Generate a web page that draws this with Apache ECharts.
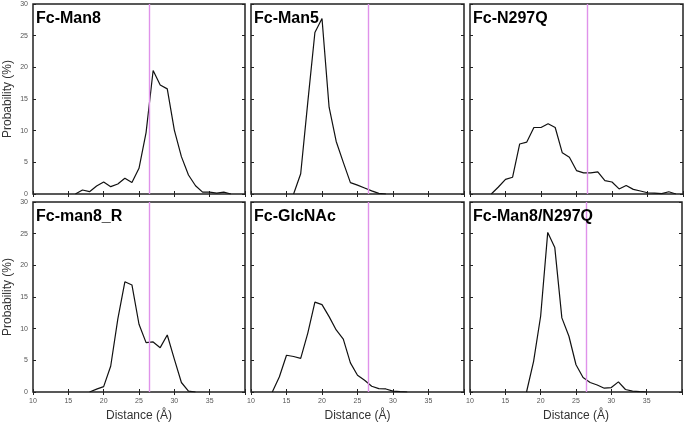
<!DOCTYPE html>
<html><head><meta charset="utf-8">
<script src="https://cdn.jsdelivr.net/npm/echarts@6/dist/echarts.min.js"></script>
<style>html,body{margin:0;padding:0;background:#fff}#c{width:685px;height:425px}</style>
</head><body><div id="c"></div>
<script>
// ---- data ----
const panelTitles = ['Fc-Man8', 'Fc-Man5', 'Fc-N297Q', 'Fc-man8_R', 'Fc-GlcNAc', 'Fc-Man8/N297Q'];
const xTickLabels = [10, 15, 20, 25, 30, 35];
const yTickLabels = [0, 5, 10, 15, 20, 25, 30];
const refDistance = 26.5;

const distMan8 = [16,17,18,19,20,21,22,23,24,25,26,27,28,29,30,31,32,33,34,35,36,37,38];
const probMan8 = [0,0.63,0.37,1.26,1.9,1.16,1.58,2.5,1.8,4.05,9.7,19.5,17.2,16.6,10.1,5.9,3.0,1.3,0.3,0.3,0.15,0.3,0];

const distMan5 = [16,17,18,19,20,21,22,23,24,25,26,27,28,29];
const probMan5 = [0,3.2,14.5,25.5,27.7,13.7,8.3,5.0,1.8,1.4,0.95,0.5,0.1,0];

const distN297Q = [13,14,15,16,17,18,19,20,21,22,23,24,25,26,27,28,29,30,31,32,33,34,35,36,37,38,39];
const probN297Q = [0,1.1,2.3,2.65,7.9,8.2,10.5,10.5,11.1,10.5,6.5,5.8,3.7,3.33,3.33,3.5,2.1,1.9,0.8,1.35,0.73,0.47,0.2,0.15,0.05,0.35,0];

const distMan8R = [18,19,20,21,22,23,24,25,26,27,28,29,30,31,32,33];
const probMan8R = [0,0.45,0.85,4.1,11.5,17.4,16.9,10.7,7.8,7.9,7.0,9.0,5.2,1.5,0.15,0];

const distGlcNAc = [13,14,15,16,17,18,19,20,21,22,23,24,25,26,27,28,29,30,31,32];
const probGlcNAc = [0,2.4,5.8,5.6,5.3,9.3,14.2,13.8,11.9,9.8,8.35,4.6,2.65,1.85,0.9,0.53,0.48,0.15,0.05,0];

const distMan8N297Q = [18,19,20,21,22,23,24,25,26,27,28,29,30,31,32,33,34,35];
const probMan8N297Q = [0,4.85,12.0,25.2,22.8,11.7,8.8,4.3,2.3,1.5,1.1,0.6,0.7,1.6,0.4,0.15,0.05,0];

const panelDist = [distMan8, distMan5, distN297Q, distMan8R, distGlcNAc, distMan8N297Q];
const panelProb = [probMan8, probMan5, probN297Q, probMan8R, probGlcNAc, probMan8N297Q];

// ---- layout ----
const colLeft = [33, 251, 470];
const colWidth = [212, 213, 213];
const rowTop = [4, 202];
const rowHeight = 190;

const grids = [], xAxes = [], yAxes = [], series = [], titles = [];
const tickStyle = { show: true, inside: true, length: 3, lineStyle: { color: '#222', width: 1 } };
const labelFont = { color: '#555', fontSize: 7, fontFamily: 'Liberation Sans, Arial, sans-serif' };

for (let i = 0; i < 6; i++) {
  const r = Math.floor(i / 3), c = i % 3;
  grids.push({ left: colLeft[c], top: rowTop[r], width: colWidth[c], height: rowHeight,
    show: true, borderColor: '#222', borderWidth: 1.5, backgroundColor: 'transparent' });
  const xBase = { type: 'value', gridIndex: i, min: 10, max: 40, interval: 5,
    axisLine: { show: false }, splitLine: { show: false }, axisTick: tickStyle };
  xAxes.push(Object.assign({}, xBase, {
    position: 'bottom',
    axisLabel: { show: r === 1, margin: 6, ...labelFont,
      formatter: v => xTickLabels.indexOf(v) >= 0 ? String(v) : '' },
    name: r === 1 ? 'Distance (Å)' : '', nameLocation: 'middle', nameGap: 18,
    nameTextStyle: { fontSize: 12, color: '#333', fontFamily: 'Liberation Sans, Arial, sans-serif' }
  }));
  xAxes.push(Object.assign({}, xBase, { position: 'top', axisLabel: { show: false } }));
  const yBase = { type: 'value', gridIndex: i, min: 0, max: 30, interval: 5,
    axisLine: { show: false }, splitLine: { show: false }, axisTick: tickStyle };
  yAxes.push(Object.assign({}, yBase, {
    position: 'left',
    axisLabel: { show: c === 0, margin: 5, ...labelFont,
      formatter: v => yTickLabels.indexOf(v) >= 0 ? String(v) : '' },
    name: c === 0 ? 'Probability (%)' : '', nameLocation: 'middle', nameGap: 19,
    nameTextStyle: { fontSize: 12, color: '#333', fontFamily: 'Liberation Sans, Arial, sans-serif' }
  }));
  yAxes.push(Object.assign({}, yBase, { position: 'right', axisLabel: { show: false } }));

  series.push({
    type: 'line', xAxisIndex: 2 * i, yAxisIndex: 2 * i,
    data: panelDist[i].map((d, k) => [d, panelProb[i][k]]),
    symbol: 'none', lineStyle: { color: '#111', width: 1.2 }, animation: false, z: 3,
    markLine: { silent: true, symbol: 'none', label: { show: false },
      lineStyle: { color: '#df92ea', width: 1.4, type: 'solid' },
      data: [{ xAxis: refDistance }], animation: false }
  });
  titles.push({ text: panelTitles[i], left: colLeft[c] + 3, top: rowTop[r] + 7,
    textStyle: { fontSize: 16, fontWeight: 'bold', color: '#000', fontFamily: 'Liberation Sans, Arial, sans-serif' },
    padding: 0 });
}

const chart = echarts.init(document.getElementById('c'));
chart.setOption({ animation: false, title: titles, grid: grids, xAxis: xAxes, yAxis: yAxes, series: series });
</script></body></html>
